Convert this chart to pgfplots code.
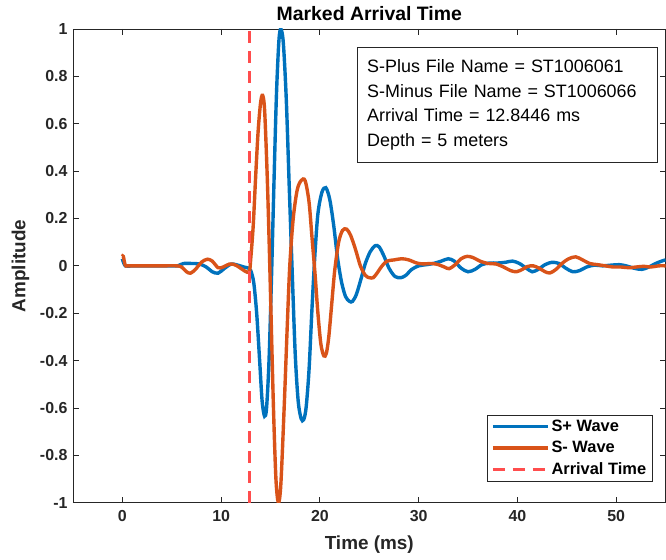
\documentclass[border=0pt]{standalone}
\usepackage{fontspec}
\setmainfont{Liberation Sans}
\usepackage{pgfplots}
\pgfplotsset{compat=1.18}
\usetikzlibrary{calc}
\definecolor{splus}{RGB}{0,114,189}
\definecolor{sminus}{RGB}{217,83,25}
\definecolor{arrival}{RGB}{255,77,77}
\definecolor{axgray}{RGB}{38,38,38}

\begin{document}
\begin{tikzpicture}
\begin{axis}[name=ax, scale only axis, width=593bp, height=474bp,
  xmin=-5, xmax=55, ymin=-1, ymax=1,
  xtick={0,10,20,30,40,50}, xticklabels={0,10,20,30,40,50},
  ytick={-1,-0.8,-0.6,-0.4,-0.2,0,0.2,0.4,0.6,0.8,1},
  yticklabels={-1,-0.8,-0.6,-0.4,-0.2,0,0.2,0.4,0.6,0.8,1},
  tick align=inside, major tick length=6bp,
  tick style={axgray, line width=0.8bp},
  axis line style={axgray, line width=0.9bp},
  ticklabel style={font=\fontsize{16}{19}\selectfont\bfseries, text=axgray},
  xticklabel style={yshift=-4.5bp},
  yticklabel style={xshift=-2bp},
  title={Marked Arrival Time},
  title style={at={(axis description cs:0.5,1.020)}, anchor=center,
    font=\fontsize{19.5}{22}\selectfont\bfseries},
  xlabel={Time (ms)},
  xlabel style={at={(axis description cs:0.5,-0.0886)}, anchor=center,
    font=\fontsize{19}{22}\selectfont\bfseries, text=axgray},
  ylabel={Amplitude},
  ylabel style={at={(axis description cs:-0.0885,0.5)}, anchor=center,
    font=\fontsize{19}{22}\selectfont\bfseries, text=axgray},
  legend image code/.code={\draw[#1] (0bp,0bp) -- (55bp,0bp);},
  legend style={at={(rel axis cs:0.978,0.0443)}, anchor=south east,
    draw=axgray, line width=0.8bp, fill=white,
    font=\fontsize{16.5}{19}\selectfont\bfseries,
    inner xsep=4bp, inner ysep=3bp, row sep=4.5bp,
    nodes={inner xsep=2bp, inner ysep=2bp}},
  legend cell align=left,
]
% S+ wave
\addplot[splus, line width=3.4bp, smooth] coordinates {
  (0,0.03) (0.3,0.0) (1,0) (2,0) (3,0) (4,0) (5,0) (5.6,0.0) (6.2,0.01)
  (7.0,0.01) (7.8,0.008) (8.5,-0.005) (9.1,-0.025) (9.7,-0.031) (10.3,-0.012)
  (11.0,0.007) (11.6,0.004) (12.3,-0.005) (12.8,-0.01)
  (13.0,-0.02) (13.3,-0.07) (13.6,-0.2) (13.9,-0.4) (14.15,-0.57) (14.4,-0.635)
  (14.6,-0.6) (14.85,-0.4) (15.1,-0.05) (15.35,0.35) (15.6,0.72) (15.85,0.95)
  (16.05,1.0) (16.3,0.94) (16.6,0.7) (16.9,0.33) (17.2,-0.03) (17.5,-0.37)
  (17.8,-0.57) (18.1,-0.645) (18.35,-0.65) (18.6,-0.6) (18.9,-0.44)
  (19.2,-0.18) (19.5,0.05) (19.8,0.22) (20.2,0.31) (20.6,0.33) (21.0,0.28)
  (21.4,0.17) (21.8,0.03) (22.2,-0.07) (22.6,-0.13) (23.0,-0.15) (23.3,-0.15)
  (23.7,-0.12) (24.2,-0.05) (24.6,0.01) (25.1,0.06) (25.6,0.085) (26.0,0.08)
  (26.5,0.04) (27.0,-0.01) (27.6,-0.045) (28.2,-0.05) (28.7,-0.04)
  (29.3,-0.015) (30.0,0.0) (30.8,0.005) (31.5,0.01) (32.3,0.02) (33.0,0.03)
  (33.6,0.02) (34.3,-0.01) (35.0,-0.025) (35.7,-0.015) (36.4,0.005)
  (37.2,0.012) (38.0,0.012) (38.8,0.015) (39.5,0.02) (40.2,0.01) (40.9,-0.01)
  (41.5,-0.025) (42.1,-0.015) (42.8,0.005) (43.5,0.015) (44.2,0.01)
  (44.9,-0.01) (45.6,-0.025) (46.3,-0.02) (47.0,-0.005) (47.8,0.003)
  (48.6,0.0) (49.5,0.003) (50.3,0.005) (51.0,0.0) (51.8,-0.01) (52.6,-0.015)
  (53.3,-0.005) (54.0,0.01) (54.6,0.02) (55,0.025)
};
\addlegendentry{S+ Wave}
% S- wave
\addplot[sminus, line width=3.4bp, smooth] coordinates {
  (0,0.04) (0.1,0.04) (0.3,0.002) (0.6,0) (2,0) (4,0) (5.5,0) (6.0,-0.005)
  (6.5,-0.025) (6.9,-0.031) (7.4,-0.015) (8.0,0.015) (8.6,0.028) (9.1,0.02)
  (9.7,-0.008) (10.2,-0.005) (10.8,0.007) (11.3,0.006) (11.8,-0.005)
  (12.4,-0.022) (12.85,-0.025)
  (13.0,0.03) (13.25,0.17) (13.5,0.38) (13.75,0.57) (14.0,0.69) (14.2,0.72)
  (14.4,0.66) (14.65,0.4) (14.85,0.12) (15.05,-0.2) (15.3,-0.6) (15.55,-0.9)
  (15.8,-1.0) (16.05,-0.92) (16.4,-0.58) (16.7,-0.25) (16.95,0.0) (17.3,0.2)
  (17.7,0.32) (18.1,0.36) (18.5,0.36) (18.9,0.27) (19.2,0.12) (19.5,-0.03)
  (19.8,-0.2) (20.1,-0.33) (20.4,-0.38) (20.65,-0.37) (20.9,-0.3)
  (21.2,-0.16) (21.5,-0.02) (21.9,0.1) (22.3,0.15) (22.7,0.155) (23.1,0.13)
  (23.6,0.07) (24.1,0.0) (24.6,-0.04) (25.0,-0.05) (25.4,-0.05) (25.8,-0.03)
  (26.3,0.0) (26.8,0.02) (27.5,0.025) (28.3,0.03) (29.0,0.025) (29.8,0.012)
  (30.5,0.008) (31.3,0.01) (32.0,0.005) (32.6,-0.005) (33.1,-0.012)
  (33.7,0.005) (34.3,0.03) (34.9,0.04) (35.5,0.035) (36.2,0.02) (37.0,0.01)
  (37.8,0.008) (38.6,-0.005) (39.3,-0.02) (39.9,-0.025) (40.5,-0.015)
  (41.0,-0.003) (41.6,0.0) (42.2,-0.01) (42.8,-0.025) (43.3,-0.03)
  (43.9,-0.015) (44.5,0.01) (45.2,0.03) (45.9,0.038) (46.6,0.025)
  (47.3,0.01) (48.1,0.005) (48.9,0.0) (49.7,-0.005) (50.5,-0.005)
  (51.3,-0.008) (52.0,-0.005) (52.8,-0.002) (53.5,-0.005) (54.3,0.0) (55,0.0)
};
\addlegendentry{S- Wave}
% marked arrival time
\addplot[arrival, line width=3bp, dash pattern=on 12bp off 8bp] coordinates {
  (12.8446,-1) (12.8446,1)
};
\addlegendentry{Arrival Time}
\node[draw=axgray, line width=0.8bp, fill=white, anchor=north west,
  text width=280bp, inner xsep=10bp, minimum height=115bp, align=left,
  font=\fontsize{18}{24.7}\selectfont] at (rel axis cs:0.479,0.962)
  {S-Plus File Name = ST1006061\\
   S-Minus File Name = ST1006066\\
   Arrival Time = 12.8446 ms\\
   Depth = 5 meters};
\end{axis}
\pgfresetboundingbox
\path ($(ax.south west)+(-73bp,-57bp)$) rectangle ($(ax.north east)+(0.4bp,29bp)$);
\end{tikzpicture}
\end{document}
